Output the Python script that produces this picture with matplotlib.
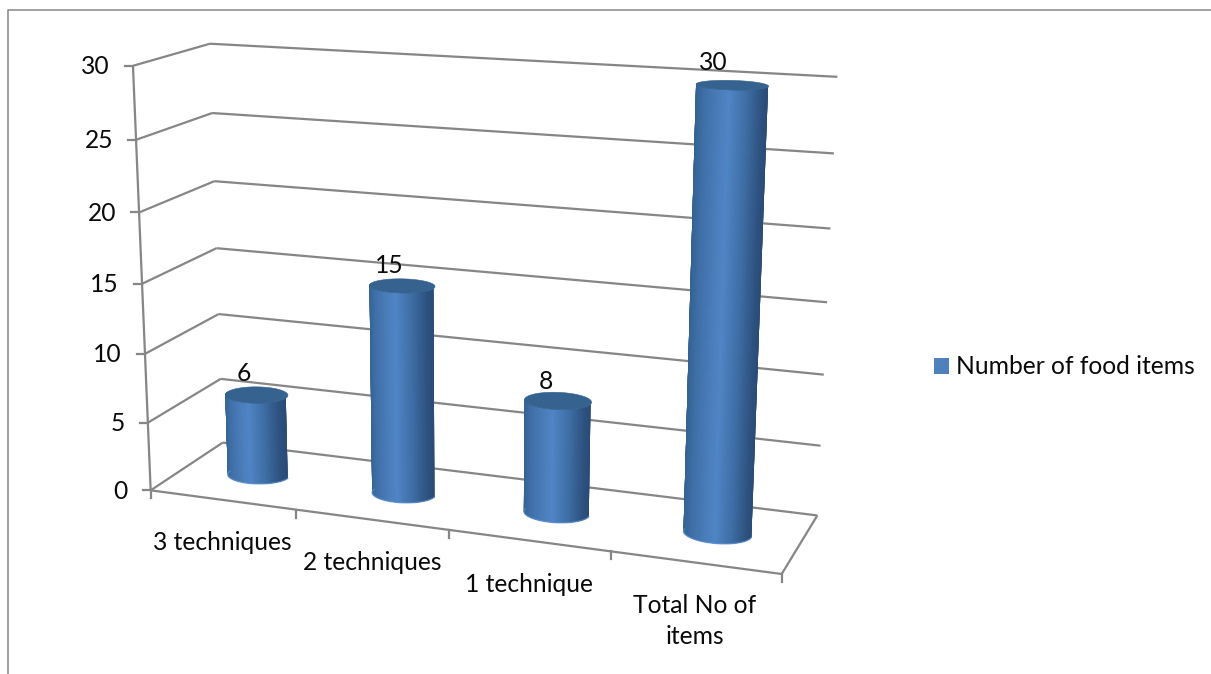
import numpy as np
import matplotlib
matplotlib.use("Agg")
import matplotlib.pyplot as plt
from matplotlib.collections import PolyCollection
from matplotlib.colors import LinearSegmentedColormap
from matplotlib.patches import Patch

plt.rcParams["font.family"] = ["Lato", "DejaVu Sans"]

categories = ["3 techniques", "2 techniques", "1 technique", "Total No of\nitems"]
values = [6, 15, 8, 30]
y_ticks = [0, 5, 10, 15, 20, 25, 30]
series_name = "Number of food items"

WIDTH, HEIGHT = 1211, 674
GREY = "#868686"
TEXT = "#0a0a0a"
FONT = 17.7

# (category pos, value, depth) -> pixel, used to fit the camera of the 3D box
anchors = [
    (0, 0, 0, 152, 490), (0, 30, 0, 132, 66), (0, 15, 0, 142, 283),
    (1, 0, 0, 296, 510), (2, 0, 0, 449, 530), (3, 0, 0, 612, 552), (4, 0, 0, 781, 574),
    (0, 0, 1, 222, 443), (0, 15, 1, 216, 248), (0, 30, 1, 211, 44),
    (4, 0, 1, 817, 515), (4, 15, 1, 828, 302), (4, 30, 1, 837, 77),
]


def fit_camera(points):
    rows, rhs = [], []
    for x, y, z, u, v in points:
        rows.append([x, y, z, 1, 0, 0, 0, 0, -u * x, -u * y, -u * z])
        rows.append([0, 0, 0, 0, x, y, z, 1, -v * x, -v * y, -v * z])
        rhs += [u, v]
    p = np.linalg.lstsq(np.array(rows, float), np.array(rhs, float), rcond=None)[0]
    return np.append(p, 1.0).reshape(3, 4)


CAM = fit_camera(anchors)
SIDE = LinearSegmentedColormap.from_list(
    "side", [(0, "#32608f"), (0.2, "#4070a8"), (0.55, "#5085c6"), (0.78, "#3f6ea6"), (1, "#2a4c77")])


def project(x, y, z):
    x, y, z = np.broadcast_arrays(np.asarray(x, float), np.asarray(y, float), np.asarray(z, float))
    pts = np.stack([x, y, z, np.ones_like(x)])
    out = np.tensordot(CAM, pts, axes=1)
    return out[0] / out[2], out[1] / out[2]


def edge(ax, a, b, lw=1.6):
    xs, ys = project(*np.array([a, b]).T)
    ax.plot(xs, ys, color=GREY, lw=lw, solid_capstyle="butt", zorder=1)


def cylinder(ax, pos, value, rx=0.203, rz=0.17):
    # side wall painted left to right, each strip overlapping the next to hide seams
    theta = np.linspace(np.pi, 2 * np.pi, 100)
    cx, cz = pos + 0.507, 0.5
    bx, by = project(cx + rx * np.cos(theta), 0, cz + rz * np.sin(theta))
    tx, ty = project(cx + rx * np.cos(theta), value, cz + rz * np.sin(theta))
    shade = (1 - np.cos(theta - np.pi)) / 2
    strips = []
    for i in range(len(theta) - 1):
        j = min(i + 4, len(theta) - 1)
        strips.append(np.column_stack([np.r_[tx[i:j + 1], bx[i:j + 1][::-1]],
                                       np.r_[ty[i:j + 1], by[i:j + 1][::-1]]]))
    coll = PolyCollection(strips, facecolors=SIDE(shade[:-1]), edgecolors="none", zorder=3)
    coll.set_snap(False)
    ax.add_collection(coll)
    ax.plot(bx, by, color="#5f92cf", lw=1.0, alpha=0.7, zorder=3)

    full = np.linspace(0, 2 * np.pi, 120)
    cap_x, cap_y = project(cx + rx * np.cos(full), value, cz + rz * np.sin(full))
    ax.fill(cap_x, cap_y, color="#35628f", lw=0.4, zorder=4)


fig = plt.figure(figsize=(WIDTH / 100, HEIGHT / 100), dpi=100)
ax = fig.add_axes([0, 0, 1, 1])
ax.set_xlim(0, WIDTH)
ax.set_ylim(HEIGHT, 0)
ax.axis("off")

# outer frame, only left and top are visible
ax.plot([7.5, 7.5, WIDTH], [HEIGHT, 9.5, 9.5], color=GREY, lw=1.1, zorder=1)

# wall and floor gridlines
for v in y_ticks:
    edge(ax, (0, v, 0), (0, v, 1))
    edge(ax, (0, v, 1), (4, v, 1))
edge(ax, (0, 0, 0), (0, 30, 0))
edge(ax, (0, 0, 0), (4, 0, 0))
edge(ax, (4, 0, 0), (4, 0, 1))

# ticks
for v in y_ticks:
    px, py = project(0, v, 0)
    ax.plot([px - 8, px], [py, py], color=GREY, lw=1.6, zorder=1)
    ax.text(px - 23, py + 1, str(v), ha="right", va="center", fontsize=FONT, color=TEXT)
for i in range(len(categories) + 1):
    px, py = project(i, 0, 0)
    ax.plot([px, px], [py, py + 8], color=GREY, lw=1.6, zorder=1)

label_pos = [(222, 543), (372, 563), (529, 584), (695, 621)]
for name, (lx, ly) in zip(categories, label_pos):
    ax.text(lx, ly, name, ha="center", va="center", fontsize=FONT, color=TEXT, linespacing=1.43)

value_shift = [(-13, 21), (-13, 20), (-12, 19), (-19, 23)]
for i, v in enumerate(values):
    cylinder(ax, i, v)
    px, py = project(i + 0.5, v, 0.5)
    ax.text(px + value_shift[i][0] + 1, py - value_shift[i][1], str(v), ha="center", va="center",
            fontsize=FONT, color=TEXT, zorder=5)

ax.legend(handles=[Patch(facecolor="#4F81BD", label=series_name)], loc="center left",
          bbox_to_anchor=(912, 367), bbox_transform=ax.transData, frameon=False,
          fontsize=FONT, handlelength=0.61, handleheight=0.61, handletextpad=0.3,
          labelcolor=TEXT)

fig.savefig("out.png", dpi=100)
